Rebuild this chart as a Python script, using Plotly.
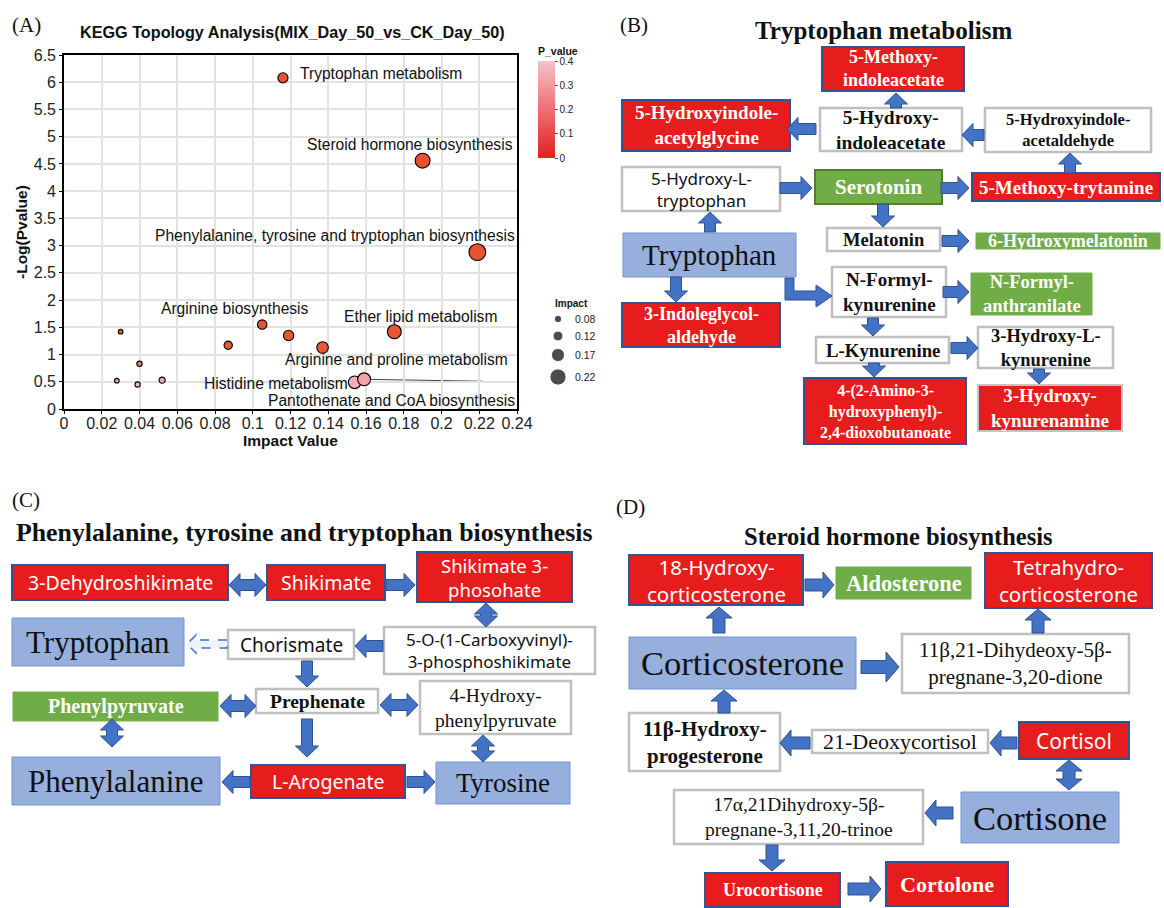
import math
import plotly.graph_objects as go

W, H = 1164, 908

# ---------------- KEGG topology scatter data ----------------
pathway_labels = [
    "Tryptophan metabolism", "Steroid hormone biosynthesis",
    "Phenylalanine, tyrosine and tryptophan biosynthesis", "Arginine biosynthesis",
    "Ether lipid metabolism", "", "Arginine and proline metabolism", "",
    "", "", "", "", "", "Histidine metabolism", "Pantothenate and CoA biosynthesis",
]
impact = [0.116, 0.190, 0.219, 0.105, 0.175, 0.119, 0.137, 0.087,
          0.030, 0.040, 0.028, 0.039, 0.052, 0.154, 0.159]
neg_log_p = [6.08, 4.56, 2.88, 1.55, 1.42, 1.35, 1.13, 1.17,
             1.42, 0.83, 0.52, 0.45, 0.53, 0.49, 0.545]
p_value = [10 ** (-v) for v in neg_log_p]

x_tick_vals = [0, 0.02, 0.04, 0.06, 0.08, 0.1, 0.12, 0.14, 0.16, 0.18, 0.2, 0.22, 0.24]
x_tick_text = ["0", "0.02", "0.04", "0.06", "0.08", "0.1", "0.12", "0.14",
               "0.16", "0.18", "0.2", "0.22", "0.24"]
y_tick_vals = [0, 0.5, 1, 1.5, 2, 2.5, 3, 3.5, 4, 4.5, 5, 5.5, 6, 6.5]
y_tick_text = ["0", "0.5", "1", "1.5", "2", "2.5", "3", "3.5", "4", "4.5",
               "5", "5.5", "6", "6.5"]

impact_legend = [0.08, 0.12, 0.17, 0.22]
impact_legend_text = ["0.08", "0.12", "0.17", "0.22"]
p_ticks = [0, 0.1, 0.2, 0.3, 0.4]
p_tick_text = ["0", "0.1", "0.2", "0.3", "0.4"]


def bubble(v):
    return 2.8 + 63.5 * v


def X(x):
    return x / W


def Y(y):
    return 1 - y / H


SERIF = "Liberation Serif, Times New Roman, serif"
SANS = "Noto Sans, Liberation Sans, sans-serif"
ARIAL = "Liberation Sans, Arial, sans-serif"

shapes, annos = [], []

BOX = {
    "red": ("#E71D1D", "#2F5597", 2),
    "redg": ("#E71D1D", "#C4C4C4", 2),
    "white": ("#FFFFFF", "#BFBFBF", 2.5),
    "green": ("#70AD47", "#70AD47", 1),
    "greenb": ("#70AD47", "#507E32", 2),
    "blue": ("#97AFDD", "#7393D3", 1),
}
TXT = {
    "sbw": (SERIF, 700, "white"),
    "sbk": (SERIF, 700, "#111111"),
    "srk": (SERIF, 400, "#111111"),
    "ssw": (SANS, 400, "white"),
    "ssk": (SANS, 400, "#111111"),
}


def text(label, x, y, size, family=SERIF, weight=400, anchor="center", color="#111111"):
    annos.append(dict(x=X(x), y=Y(y), xref="paper", yref="paper", text=label,
                      showarrow=False, xanchor=anchor, yanchor="middle", align="center",
                      font=dict(family=family, size=size, color=color, weight=weight)))


def node(label, x0, y0, x1, y1, box, txt, size):
    fill, edge, lw = BOX[box]
    shapes.append(dict(type="rect", xref="paper", yref="paper",
                       x0=X(x0), x1=X(x1), y0=Y(y1), y1=Y(y0),
                       fillcolor=fill, line=dict(color=edge, width=lw), layer="above"))
    fam, weight, col = TXT[txt]
    text(label, (x0 + x1) / 2, (y0 + y1) / 2, size, family=fam, weight=weight, color=col)


def poly(pts, fill="#4472C4", edge="#2F528F", width=1, dash="solid"):
    path = "M" + " L".join(f"{X(a):.5f},{Y(b):.5f}" for a, b in pts) + " Z"
    shapes.append(dict(type="path", xref="paper", yref="paper", path=path,
                       fillcolor=fill, line=dict(color=edge, width=width, dash=dash),
                       layer="above"))


def arrow(x0, y0, x1, y1, sw=11, hw=23, hl=11, both=False, dashed=False):
    L = math.hypot(x1 - x0, y1 - y0)
    ux, uy = (x1 - x0) / L, (y1 - y0) / L
    nx, ny = -uy, ux

    def P(t, s):
        return (x0 + ux * t + nx * s, y0 + uy * t + ny * s)

    if both:
        pts = [P(0, 0), P(hl, hw / 2), P(hl, sw / 2), P(L - hl, sw / 2), P(L - hl, hw / 2),
               P(L, 0), P(L - hl, -hw / 2), P(L - hl, -sw / 2), P(hl, -sw / 2), P(hl, -hw / 2)]
    else:
        pts = [P(0, sw / 2), P(L - hl, sw / 2), P(L - hl, hw / 2), P(L, 0),
               P(L - hl, -hw / 2), P(L - hl, -sw / 2), P(0, -sw / 2)]
    if dashed:
        poly(pts, fill="#EEF2FA", edge="#4472C4", width=1.5, dash="dash")
    else:
        poly(pts)


# ---------------- panel letters and titles ----------------
text("(A)", 26, 25, 21)
text("(B)", 634, 25, 21)
text("(C)", 26, 500, 21)
text("(D)", 630, 507, 21)
text("Tryptophan metabolism", 883, 31, 25, weight=700)
text("Phenylalanine, tyrosine and tryptophan biosynthesis", 304, 532, 25.8, weight=700)
text("Steroid hormone biosynthesis", 898, 536, 24.5, weight=700)

# ---------------- (B) Tryptophan metabolism ----------------
node("5-Methoxy-<br>indoleacetate", 822, 47, 964, 91, "red", "sbw", 18)
node("5-Hydroxyindole-<br>acetylglycine", 622, 100, 790, 151, "red", "sbw", 19)
node("5-Hydroxy-<br>indoleacetate", 820, 108, 962, 151, "white", "sbk", 19.5)
node("5-Hydroxyindole-<br>acetaldehyde", 985, 108, 1151, 152, "white", "sbk", 16.5)
node("5-Hydroxy-L-<br>tryptophan", 622, 167, 780, 211, "white", "ssk", 17)
node("Serotonin", 815, 170, 942, 204, "greenb", "sbw", 21)
node("5-Methoxy-trytamine", 972, 173, 1160, 201, "red", "sbw", 19)
node("Melatonin", 827, 228, 940, 251, "white", "sbk", 18.5)
node("6-Hydroxymelatonin", 976, 233, 1160, 249, "green", "sbw", 18)
node("Tryptophan", 623, 233, 796, 277, "blue", "srk", 29)
node("3-Indoleglycol-<br>aldehyde", 622, 303, 780, 347, "red", "sbw", 18)
node("N-Formyl-<br>kynurenine", 832, 267, 946, 317, "white", "sbk", 19)
node("N-Formyl-<br>anthranilate", 971, 273, 1092, 315, "green", "sbw", 18.5)
node("L-Kynurenine", 816, 337, 949, 363, "white", "sbk", 18.8)
node("3-Hydroxy-L-<br>kynurenine", 978, 327, 1113, 368, "white", "sbk", 18.5)
node("4-(2-Amino-3-<br>hydroxyphenyl)-<br>2,4-dioxobutanoate", 804, 378, 966, 444, "red", "sbw", 16)
node("3-Hydroxy-<br>kynurenamine", 978, 385, 1122, 431, "redg", "sbw", 19)

arrow(896, 108, 896, 93)
arrow(816, 129, 787, 129)
arrow(984, 135, 962, 135)
arrow(1070, 173, 1070, 153)
arrow(780, 188, 812, 188)
arrow(941, 188, 969, 188)
arrow(883, 204, 883, 227)
arrow(710, 232, 710, 212)
arrow(942, 241, 969, 241)
arrow(676, 277, 676, 302)
poly([(785, 278), (794, 278), (794, 291), (816, 291), (816, 285), (832, 296),
      (816, 307), (816, 300), (785, 300)])
arrow(943, 292, 969, 292)
arrow(873, 318, 873, 336)
arrow(951, 348, 978, 348)
arrow(874, 363, 874, 377)
arrow(1039, 369, 1039, 384)

# ---------------- (C) Phenylalanine, tyrosine and tryptophan biosynthesis ----------------
node("3-Dehydroshikimate", 12, 565, 228, 600, "red", "ssw", 19.5)
node("Shikimate", 267, 565, 385, 600, "red", "ssw", 19.5)
node("Shikimate 3-<br>phosohate", 417, 552, 572, 602, "red", "ssw", 18.5)
node("5-O-(1-Carboxyvinyl)-<br>3-phosphoshikimate", 384, 627, 595, 674, "white", "ssk", 17)
node("Chorismate", 228, 630, 354, 659, "white", "ssk", 19)
node("Tryptophan", 12, 618, 184, 666, "blue", "srk", 31)
node("Phenylpyruvate", 13, 692, 218, 721, "green", "sbw", 20)
node("Prephenate", 256, 689, 378, 713, "white", "sbk", 19.5)
node("4-Hydroxy-<br>phenylpyruvate", 420, 681, 571, 734, "white", "srk", 19.5)
node("Phenylalanine", 12, 757, 220, 805, "blue", "srk", 31)
node("L-Arogenate", 251, 765, 405, 798, "red", "ssw", 19.5)
node("Tyrosine", 436, 762, 570, 804, "blue", "srk", 27)

arrow(229, 585, 266, 585, both=True)
arrow(386, 585, 415, 585)
arrow(486, 603, 486, 627, both=True)
arrow(383, 646, 355, 646)
arrow(227, 644, 187, 644, sw=8, hw=18, hl=9, dashed=True)
arrow(307, 661, 307, 687)
arrow(220, 706, 256, 706, both=True)
arrow(380, 705, 418, 705, both=True)
arrow(483, 735, 483, 762, both=True)
arrow(307, 719, 307, 757)
arrow(112, 719, 112, 747, both=True)
arrow(250, 782, 222, 782)
arrow(407, 782, 435, 782)

# ---------------- (D) Steroid hormone biosynthesis ----------------
node("18-Hydroxy-<br>corticosterone", 629, 555, 803, 605, "red", "ssw", 20.5)
node("Aldosterone", 836, 567, 971, 599, "green", "sbw", 22.5)
node("Tetrahydro-<br>corticosterone", 985, 553, 1152, 608, "red", "ssw", 20.5)
node("Corticosterone", 629, 637, 856, 689, "blue", "srk", 34.5)
node("11β,21-Dihydeoxy-5β-<br>pregnane-3,20-dione", 902, 634, 1129, 693, "white", "srk", 21)
node("11β-Hydroxy-<br>progesterone", 629, 713, 780, 771, "white", "sbk", 21)
node("21-Deoxycortisol", 812, 730, 988, 753, "white", "srk", 22)
node("Cortisol", 1019, 722, 1129, 759, "red", "ssw", 21)
node("Cortisone", 961, 792, 1119, 843, "blue", "srk", 34.5)
node("17α,21Dihydroxy-5β-<br>pregnane-3,11,20-trinoe", 674, 790, 923, 844, "white", "srk", 19.5)
node("Urocortisone", 705, 873, 840, 907, "red", "sbw", 18)
node("Cortolone", 886, 862, 1008, 906, "red", "sbw", 22)

arrow(805, 585, 834, 585, sw=12, hw=26)
arrow(1038, 633, 1038, 609, sw=12, hw=26)
arrow(719, 633, 719, 607, sw=12, hw=26)
arrow(861, 667, 899, 667, sw=13, hw=30, hl=13)
arrow(724, 713, 724, 690, sw=12, hw=26)
arrow(810, 743, 780, 743, sw=12, hw=26)
arrow(1017, 743, 990, 743, sw=12, hw=26)
arrow(1069, 760, 1069, 790, sw=12, hw=26, both=True)
arrow(953, 813, 925, 813, sw=12, hw=26)
arrow(772, 845, 772, 871, sw=12, hw=26)
arrow(848, 889, 881, 889, sw=12, hw=26)

# ---------------- (A) scatter annotations ----------------
label_pos = {
    "Tryptophan metabolism": (298, 73, "left"),
    "Steroid hormone biosynthesis": (515, 144, "right"),
    "Phenylalanine, tyrosine and tryptophan biosynthesis": (517, 235, "right"),
    "Arginine biosynthesis": (159, 309, "left"),
    "Ether lipid metabolism": (342, 316, "left"),
    "Arginine and proline metabolism": (510, 359, "right"),
    "Histidine metabolism": (202, 384, "left"),
    "Pantothenate and CoA biosynthesis": (517, 400, "right"),
}
for lab in pathway_labels:
    if lab:
        lx, ly, anc = label_pos[lab]
        text(lab, lx, ly, 15.6, family=ARIAL, anchor=anc)

text("KEGG Topology Analysis(MIX_Day_50_vs_CK_Day_50)", 292, 32, 16.2, family=ARIAL, weight=700)
text("Impact Value", 290, 440, 15.5, family=ARIAL, weight=700)
annos.append(dict(x=X(21), y=Y(232), xref="paper", yref="paper", text="-Log(Pvalue)",
                  showarrow=False, textangle=-90, xanchor="center", yanchor="middle",
                  font=dict(family=ARIAL, size=15.5, color="#111111", weight=700)))
text("Impact", 553, 303, 10, family=ARIAL, weight=700, anchor="left")
for yy, lab in zip([319, 336, 355, 377], impact_legend_text):
    text(lab, 573, yy, 10.5, family=ARIAL, anchor="left", color="#222222")

i_pan = pathway_labels.index("Pantothenate and CoA biosynthesis")
shapes.append(dict(type="line", xref="x", yref="y", x0=impact[i_pan], y0=neg_log_p[i_pan],
                   x1=0.222, y1=0.51, line=dict(color="#444444", width=1), layer="below"))

POINT_SCALE = [[0, "#E8532F"], [0.2, "#E85A3A"], [0.4, "#EC8074"],
               [0.75, "#F2A7B0"], [1, "#F7C6CC"]]
BAR_SCALE = [[0, "#E41F1F"], [1, "#F6C2C9"]]

fig = go.Figure()
fig.add_trace(go.Scatter(
    x=impact, y=neg_log_p, mode="markers", xaxis="x", yaxis="y",
    text=pathway_labels, hoverinfo="text+x+y",
    marker=dict(size=[bubble(v) for v in impact], color=p_value, colorscale=POINT_SCALE,
                cmin=0, cmax=0.4, showscale=False, opacity=1,
                line=dict(color="black", width=1.1)),
))
# colour key for P_value
fig.add_trace(go.Scatter(
    x=[-100, -100], y=[-100, -100], mode="markers", xaxis="x2", yaxis="y2", hoverinfo="skip",
    marker=dict(color=[0, 0.4], colorscale=BAR_SCALE, cmin=0, cmax=0.4, showscale=True,
                colorbar=dict(x=X(538), xanchor="left", xpad=0, y=Y(44), yanchor="top", ypad=0,
                              len=(158 - 44) / H, lenmode="fraction", thickness=17,
                              outlinewidth=0, ticks="outside", ticklen=3, tickwidth=1,
                              tickcolor="#555555", tickvals=p_ticks, ticktext=p_tick_text,
                              tickfont=dict(family=ARIAL, size=10, color="#222222"),
                              title=dict(text="<b>P_value</b>", side="top",
                                         font=dict(family=ARIAL, size=10.5, color="#111111")))),
))
# size key for impact
fig.add_trace(go.Scatter(
    x=[558] * len(impact_legend), y=[319, 336, 355, 377], mode="markers",
    xaxis="x2", yaxis="y2", hoverinfo="skip",
    marker=dict(size=[bubble(v) - 0.5 for v in impact_legend], color="black"),
))

axis_common = dict(showline=True, mirror=True, linecolor="black", linewidth=1.6,
                   showgrid=True, gridcolor="#E2E2E2", gridwidth=1.5, zeroline=False,
                   ticks="outside", ticklen=3, tickcolor="black", automargin=False,
                   tickfont=dict(family=ARIAL, size=16, color="#222222"))

fig.update_layout(
    width=W, height=H, margin=dict(l=0, r=0, t=0, b=0, pad=0, autoexpand=False),
    paper_bgcolor="white", plot_bgcolor="rgba(0,0,0,0)", showlegend=False,
    xaxis=dict(domain=[X(64), X(517)], range=[0, 0.24], tickvals=x_tick_vals,
               ticktext=x_tick_text, anchor="y", ticklabelstandoff=-4, **axis_common),
    yaxis=dict(domain=[Y(409), Y(55)], range=[0, 6.5], tickvals=y_tick_vals,
               ticktext=y_tick_text, anchor="x", **axis_common),
    xaxis2=dict(domain=[0, 1], range=[0, W], visible=False, anchor="y2", automargin=False),
    yaxis2=dict(domain=[0, 1], range=[H, 0], visible=False, anchor="x2", automargin=False),
    shapes=shapes, annotations=annos,
)

fig.write_html("out.html", config={"responsive": False})
